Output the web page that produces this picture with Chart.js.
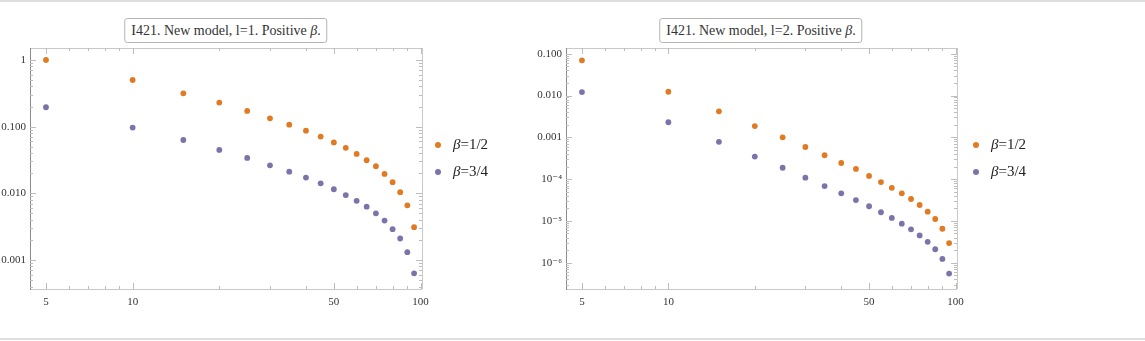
<!DOCTYPE html>
<html lang="en">
<head>
    <meta charset="UTF-8">
    <title>I421. New model</title>
    <script src="https://cdn.jsdelivr.net/npm/chart.js"></script>
    <style>
        body { margin: 0; background: #fff; }
        #page { position: relative; width: 1145px; height: 341px; background: #fff; overflow: hidden; font-family: "Liberation Serif", "DejaVu Serif", serif; }
        .rule { position: absolute; left: 0; width: 1145px; height: 2px; background: #dedede; }
        .title { position: absolute; top: 18px; height: 23px; line-height: 23px; padding: 0 6px; font-size: 14px; color: #333;
                 border: 1px solid #b4b4b4; border-radius: 3px; background: #fff; white-space: nowrap; transform: translateX(-50%); }
        .legend { position: absolute; font-size: 15px; color: #222; }
        .legend div { position: relative; height: 27px; line-height: 27px; padding-left: 18px; white-space: nowrap; }
        .legend span.dot { position: absolute; left: 0; top: 11px; width: 6px; height: 6px; border-radius: 50%; }
        canvas { position: absolute; top: 0; }
    </style>
</head>
<body>
<div id="page">
    <div class="rule" style="top:0"></div>
    <div class="rule" style="top:338px"></div>

    <div class="title" style="left:226px">I421. New model, l=1. Positive <i>β</i>.</div>
    <div class="title" style="left:761px">I421. New model, l=2. Positive <i>β</i>.</div>

    <canvas id="chartL1" width="445" height="320" style="left:0"></canvas>
    <canvas id="chartL2" width="445" height="320" style="left:530px"></canvas>

    <div class="legend" id="legendL1" style="left:435px; top:131px"></div>
    <div class="legend" id="legendL2" style="left:973px; top:131px"></div>
</div>

<script>
    // datos
    const xValues = [5, 10, 15, 20, 25, 30, 35, 40, 45, 50, 55, 60, 65, 70, 75, 80, 85, 90, 95];
    const seriesNames = ['1/2', '3/4'];

    // l = 1
    const l1Half = [1.0, 0.5, 0.316, 0.229, 0.172, 0.133, 0.107, 0.087, 0.071, 0.058, 0.048, 0.039, 0.0313, 0.0255, 0.0195, 0.0147, 0.0104, 0.0066, 0.0031];
    const l1ThreeQuarter = [0.195, 0.0967, 0.063, 0.0447, 0.0339, 0.0263, 0.0211, 0.0172, 0.0141, 0.0115, 0.0094, 0.0077, 0.0063, 0.005, 0.0039, 0.0029, 0.0021, 0.00131, 0.00063];

    // l = 2
    const l2Half = [0.0695, 0.0123, 0.00419, 0.00186, 0.001, 0.000586, 0.000372, 0.000243, 0.000175, 0.000119, 8.5e-5, 6.2e-5, 4.57e-5, 3.34e-5, 2.4e-5, 1.66e-5, 1.11e-5, 6.5e-6, 2.95e-6];
    const l2ThreeQuarter = [0.0121, 0.00229, 0.00078, 0.000347, 0.000187, 0.000108, 6.8e-5, 4.57e-5, 3.16e-5, 2.24e-5, 1.61e-5, 1.18e-5, 8.6e-6, 6.3e-6, 4.5e-6, 3.16e-6, 2.1e-6, 1.23e-6, 5.5e-7];

    // etiquetas de los ejes
    const xTicks = [5, 10, 50, 100];
    const xTickLabels = ['5', '10', '50', '100'];
    const yTicksL1 = [0.001, 0.01, 0.1, 1];
    const yTickLabelsL1 = ['0.001', '0.010', '0.100', '1'];
    const yTicksL2 = [1e-6, 1e-5, 1e-4, 0.001, 0.01, 0.1];
    const yTickLabelsL2 = ['10\u207B\u2076', '10\u207B\u2075', '10\u207B\u2074', '0.001', '0.010', '0.100'];

    const colors = ['#e07b24', '#7a74ab'];
    const tickFont = { family: '"Liberation Serif", "DejaVu Serif", serif', size: 11 };

    // marco estilo Mathematica con marcas hacia adentro
    const framePlugin = {
        id: 'frame',
        afterDraw(chart) {
            const { ctx, chartArea: a, scales } = chart;
            const minorValues = (scale) => {
                const out = [];
                const lo = Math.floor(Math.log10(scale.min));
                const hi = Math.ceil(Math.log10(scale.max));
                for (let e = lo; e <= hi; e++) {
                    for (let m = 1; m <= 9; m++) {
                        const v = m * Math.pow(10, e);
                        if (v >= scale.min && v <= scale.max) out.push(v);
                    }
                }
                return out;
            };
            const isMajor = (scale, v) => scale.ticks.some(t => Math.abs(t.value - v) / v < 1e-6);

            ctx.save();
            ctx.lineWidth = 1;
            ctx.strokeStyle = '#c9c9c9';
            ctx.beginPath();
            ctx.moveTo(a.left, a.bottom + 0.5); ctx.lineTo(a.right, a.bottom + 0.5);
            ctx.moveTo(a.left, a.top + 0.5); ctx.lineTo(a.right, a.top + 0.5);
            ctx.moveTo(a.right + 0.5, a.top); ctx.lineTo(a.right + 0.5, a.bottom);
            ctx.stroke();
            ctx.strokeStyle = '#8c8c8c';
            ctx.beginPath();
            ctx.moveTo(a.left + 0.5, a.top); ctx.lineTo(a.left + 0.5, a.bottom + 1);
            ctx.stroke();

            ctx.strokeStyle = '#bdbdbd';
            ctx.beginPath();
            minorValues(scales.x).forEach(v => {
                const px = Math.round(scales.x.getPixelForValue(v)) + 0.5;
                const len = isMajor(scales.x, v) ? 6 : 3;
                ctx.moveTo(px, a.bottom); ctx.lineTo(px, a.bottom - len);
                ctx.moveTo(px, a.top); ctx.lineTo(px, a.top + len);
            });
            minorValues(scales.y).forEach(v => {
                const py = Math.round(scales.y.getPixelForValue(v)) + 0.5;
                const len = isMajor(scales.y, v) ? 6 : 3;
                ctx.moveTo(a.left, py); ctx.lineTo(a.left + len, py);
                ctx.moveTo(a.right, py); ctx.lineTo(a.right - len, py);
            });
            ctx.stroke();
            ctx.restore();
        }
    };

    function makeChart(id, half, threeQuarter, yRange, yTicks, yLabels, yWidth, rightPad) {
        const ctx = document.getElementById(id).getContext('2d');
        return new Chart(ctx, {
            type: 'scatter',
            data: {
                datasets: [half, threeQuarter].map((vals, i) => ({
                    label: '\u03B2=' + seriesNames[i],
                    data: xValues.map((x, k) => ({ x: x, y: vals[k] })),
                    backgroundColor: colors[i],
                    borderWidth: 0,
                    pointRadius: 2.9
                }))
            },
            options: {
                responsive: false,
                devicePixelRatio: 1,
                animation: false,
                layout: { padding: { top: 48, right: rightPad, left: 0, bottom: 0 } },
                plugins: { legend: { display: false }, tooltip: { enabled: false } },
                scales: {
                    x: {
                        type: 'logarithmic',
                        min: 4.4,
                        max: 101.2,
                        afterBuildTicks: (s) => { s.ticks = xTicks.map(v => ({ value: v })); },
                        afterFit: (s) => { s.height = 31; },
                        grid: { display: false, drawTicks: false },
                        border: { display: false },
                        ticks: {
                            autoSkip: false, maxRotation: 0, padding: 7,
                            color: '#333', font: tickFont,
                            callback: (v, i) => xTickLabels[i]
                        }
                    },
                    y: {
                        type: 'logarithmic',
                        min: yRange[0],
                        max: yRange[1],
                        afterBuildTicks: (s) => { s.ticks = yTicks.map(v => ({ value: v })); },
                        afterFit: (s) => { s.width = yWidth; },
                        grid: { display: false, drawTicks: false },
                        border: { display: false },
                        ticks: {
                            autoSkip: false, padding: 4,
                            color: '#333', font: tickFont,
                            callback: (v, i) => yLabels[i]
                        }
                    }
                }
            },
            plugins: [framePlugin]
        });
    }

    function makeLegend(id) {
        const box = document.getElementById(id);
        seriesNames.forEach((name, i) => {
            const row = document.createElement('div');
            row.innerHTML = '<span class="dot" style="background:' + colors[i] + '"></span><i>\u03B2</i>=' + name;
            box.appendChild(row);
        });
    }

    window.onload = function () {
        makeChart('chartL1', l1Half, l1ThreeQuarter, [3.67e-4, 1.51], yTicksL1, yTickLabelsL1, 30, 23);
        makeChart('chartL2', l2Half, l2ThreeQuarter, [2.35e-7, 0.137], yTicksL2, yTickLabelsL2, 36, 18);
        makeLegend('legendL1');
        makeLegend('legendL2');
    };
</script>
</body>
</html>
